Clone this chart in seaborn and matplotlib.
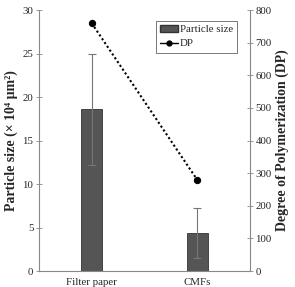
import matplotlib
matplotlib.use("Agg")
import matplotlib.pyplot as plt
import seaborn as sns
import pandas as pd
from matplotlib.lines import Line2D
from matplotlib.patches import Patch

categories = ["Filter paper", "CMFs"]
particle_size = [18.6, 4.4]
particle_err = [6.4, 2.9]
dp_values = [760, 280]

sns.set_style("white")
plt.rcParams['font.family'] = ['Liberation Serif', 'DejaVu Serif']

df = pd.DataFrame({"cat": categories, "size": particle_size, "dp": dp_values})

fig = plt.figure(figsize=(2.95, 2.87), dpi=100)
ax = fig.add_axes([0.132, 0.0557, 0.715, 0.909])
sns.barplot(data=df, x="cat", y="size", ax=ax, color="#555555", width=0.2,
            edgecolor="#333333", linewidth=0.6, errorbar=None)
ax.errorbar(range(len(categories)), particle_size, yerr=particle_err, fmt="none",
            ecolor="#777777", elinewidth=0.8, capsize=3, capthick=0.8)
ax.set_xlim(-0.5, 1.5)
ax.set_ylim(0, 30)
ax.set_yticks([0, 5, 10, 15, 20, 25, 30])
ax.set_xlabel("")
ax.set_ylabel("Particle size (× 10⁴ μm²)", fontsize=10, fontweight="bold", labelpad=3)
ax.tick_params(axis="y", direction="inout", length=4, width=0.6, color="#888888",
               labelsize=7.8, pad=2)
ax.tick_params(axis="x", length=0, labelsize=7.8, pad=5)
for s in ["top", "right"]:
    ax.spines[s].set_visible(False)
for s in ["left", "bottom"]:
    ax.spines[s].set_color("#888888")
    ax.spines[s].set_linewidth(0.8)

ax2 = ax.twinx()
sns.lineplot(x=[0, 1], y=dp_values, ax=ax2, color="black", linestyle=(0, (1, 1.2)),
             linewidth=1.5, marker="o", markersize=4.5, markeredgecolor="black")
ax2.set_ylim(0, 800)
ax2.set_yticks(range(0, 801, 100))
ax2.set_ylabel("Degree of Polymerization (DP)", fontsize=10, fontweight="bold", labelpad=3)
ax2.tick_params(axis="y", direction="inout", length=4, width=0.6, color="#888888",
                labelsize=7.8, pad=2)
for s in ["top", "left", "bottom"]:
    ax2.spines[s].set_visible(False)
ax2.spines["right"].set_color("#888888")
ax2.spines["right"].set_linewidth(0.8)

handles = [Patch(facecolor="#555555", edgecolor="#333333", label="Particle size"),
           Line2D([0], [0], color="black", marker="o", markersize=3.5, linewidth=1, label="DP")]
leg = ax2.legend(handles=handles, loc="upper left", bbox_to_anchor=(0.555, 0.96),
                 fontsize=7.8, frameon=True, fancybox=False, handlelength=1.6,
                 handletextpad=0.2, borderpad=0.4, labelspacing=0.4, borderaxespad=0)
leg.get_frame().set_edgecolor("#555555")
leg.get_frame().set_linewidth(0.7)

fig.savefig("out.png", dpi=100)
